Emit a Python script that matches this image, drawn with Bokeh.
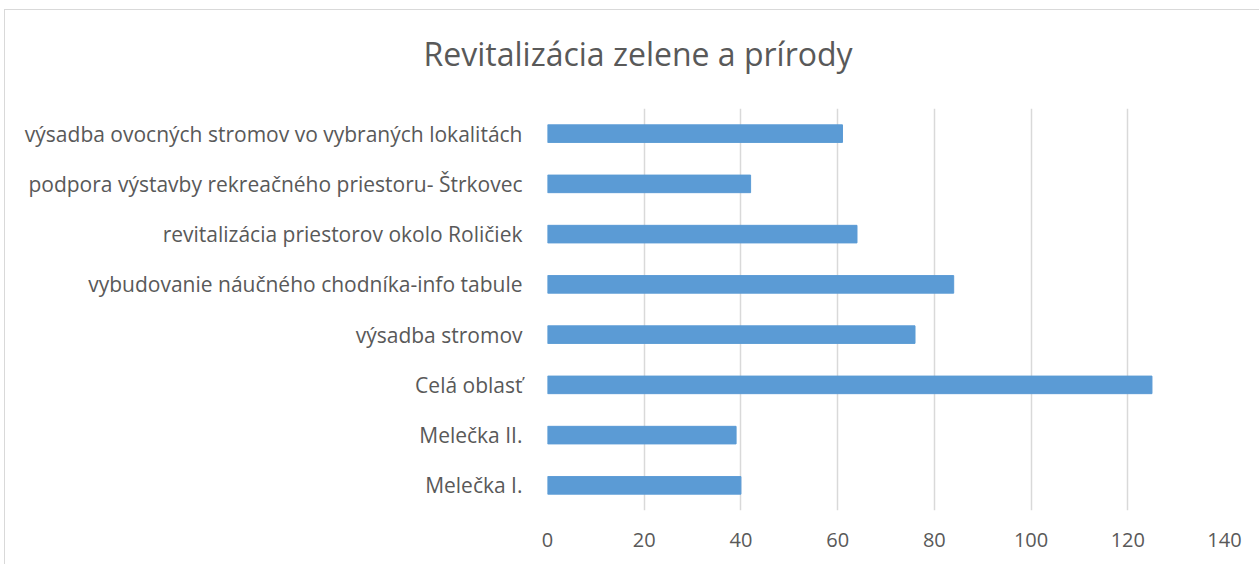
from bokeh.plotting import figure
from bokeh.models import Range1d, FactorRange, Title, FixedTicker
from bokeh.embed import file_html
from bokeh.resources import INLINE

categories = [
    "výsadba ovocných stromov vo vybraných lokalitách",
    "podpora výstavby rekreačného priestoru- Štrkovec",
    "revitalizácia priestorov okolo Roličiek",
    "vybudovanie náučného chodníka-info tabule",
    "výsadba stromov",
    "Celá oblasť",
    "Melečka II.",
    "Melečka I.",
]
values = [61, 42, 64, 84, 76, 125, 39, 40]
x_ticks = [0, 20, 40, 60, 80, 100, 120, 140]
title_text = "Revitalizácia zelene a prírody"

FONT = "Open Sans"
TXT = "#595959"
GRID = "#d9d9d9"

factors = list(reversed(categories))

p = figure(
    width=1255, height=555,
    y_range=FactorRange(factors=factors, range_padding=0),
    x_range=Range1d(0, 140),
    output_backend="svg", toolbar_location=None,
    min_border_left=542, min_border_right=36, min_border_bottom=55, min_border_top=98,
)
p.title.text = title_text
p.title.align = "left"
p.title.offset = -124
p.title.text_font = FONT
p.title.text_font_size = "32px"
p.title.text_font_style = "normal"
p.title.text_color = TXT
p.add_layout(Title(text=" ", text_font_size="16px"), "above")

p.hbar(y=categories, right=values, left=0, height=0.35, color="#5B9BD5")

p.outline_line_color = None
p.background_fill_color = "white"
p.border_fill_color = "white"

p.xgrid.grid_line_color = GRID
p.xgrid.grid_line_width = 1.5
p.xgrid.ticker = FixedTicker(ticks=x_ticks)
p.ygrid.grid_line_color = None

p.xaxis.ticker = FixedTicker(ticks=x_ticks)
p.xaxis.axis_line_color = None
p.xaxis.major_tick_line_color = None
p.xaxis.minor_tick_line_color = None
p.xaxis.major_label_standoff = 16
p.xaxis.major_label_text_font = FONT
p.xaxis.major_label_text_font_size = "20px"
p.xaxis.major_label_text_color = TXT

p.yaxis.axis_line_color = None
p.yaxis.major_tick_line_color = None
p.yaxis.minor_tick_line_color = None
p.yaxis.major_label_standoff = 19
p.yaxis.major_label_text_font = FONT
p.yaxis.major_label_text_font_size = "21px"
p.yaxis.major_label_text_color = TXT

p.styles = {"border-left": "1px solid #d9d9d9", "border-top": "1px solid #d9d9d9",
            "margin-left": "4px", "margin-top": "9px"}

open("out.html", "w").write(file_html(p, INLINE))
